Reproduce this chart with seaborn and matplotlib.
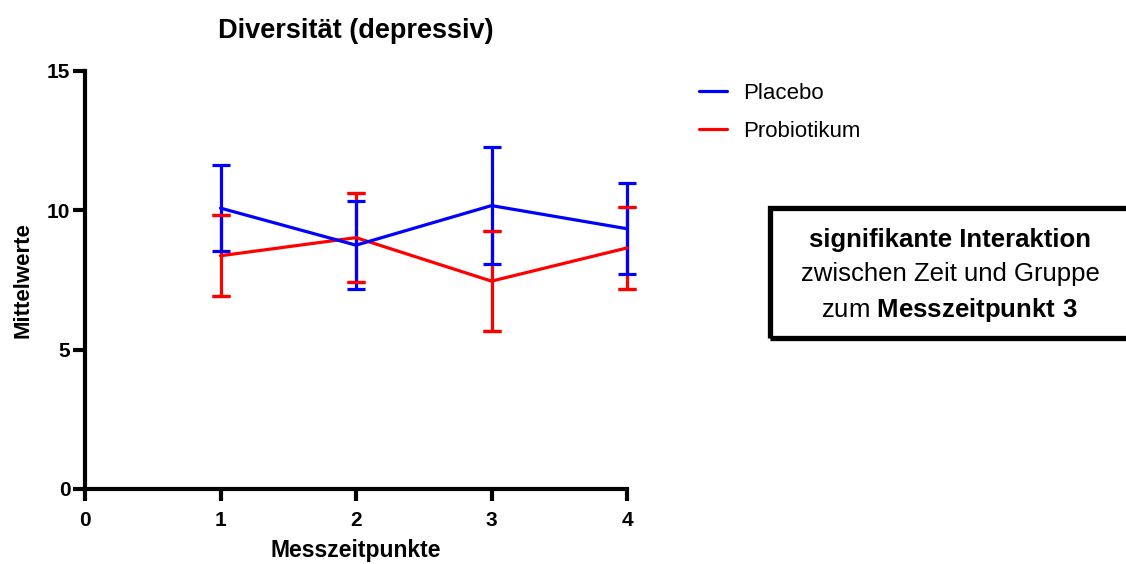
import matplotlib
matplotlib.use("Agg")
import matplotlib.pyplot as plt
import seaborn as sns
import pandas as pd
from matplotlib.patches import Rectangle

# Mittelwerte und Fehlerbalken je Messzeitpunkt
zeitpunkte = [1, 2, 3, 4]
placebo_mw = [10.08, 8.75, 10.17, 9.34]
placebo_fehler = [1.53, 1.58, 2.10, 1.63]
probiotikum_mw = [8.37, 9.02, 7.46, 8.65]
probiotikum_fehler = [1.45, 1.60, 1.80, 1.47]
gruppen = ["Placebo", "Probiotikum"]
farben = {"Placebo": "#0000FF", "Probiotikum": "#FF0000"}

df = pd.DataFrame({
    "Messzeitpunkte": zeitpunkte * 2,
    "Mittelwerte": placebo_mw + probiotikum_mw,
    "Fehler": placebo_fehler + probiotikum_fehler,
    "Gruppe": [gruppen[0]] * 4 + [gruppen[1]] * 4,
})

sns.set_style("white")
plt.rcParams["font.family"] = ["Liberation Sans", "DejaVu Sans"]
plt.rcParams["mathtext.fontset"] = "custom"
plt.rcParams["mathtext.rm"] = "Liberation Sans"
plt.rcParams["mathtext.bf"] = "Liberation Sans:bold"
plt.rcParams["text.color"] = "black"
plt.rcParams["axes.labelcolor"] = "black"
plt.rcParams["xtick.color"] = "black"
plt.rcParams["ytick.color"] = "black"

fig = plt.figure(figsize=(11.26, 5.64), dpi=100)
ax = fig.add_axes([85 / 1126, 1 - 489 / 564, (627 - 85) / 1126, (489 - 71) / 564])

LW = 2.3
CAP = 6.5


def fehlerbalken(g, elw, z):
    sub = df[df["Gruppe"] == g]
    eb = ax.errorbar(sub["Messzeitpunkte"], sub["Mittelwerte"], yerr=sub["Fehler"],
                     fmt="none", ecolor=farben[g], elinewidth=elw, capsize=CAP,
                     capthick=LW, zorder=z)
    for art in eb.lines[1] + eb.lines[2]:
        art.set_clip_on(False)


# Red drawn first, blue on top
fehlerbalken("Probiotikum", LW, 3)
fehlerbalken("Placebo", LW, 3)
sns.lineplot(data=df, x="Messzeitpunkte", y="Mittelwerte", hue="Gruppe",
             hue_order=["Probiotikum", "Placebo"], palette=farben,
             linewidth=LW, ax=ax, legend=False, zorder=4)
for ln in ax.lines:
    ln.set_clip_on(False)
# Probiotikum caps stay visible over the blue bars
fehlerbalken("Probiotikum", 0, 5)

ax.set_xlim(0, 4)
ax.set_ylim(0, 15)
ax.set_xticks([0, 1, 2, 3, 4])
ax.set_yticks([0, 5, 10, 15])
for s in ["top", "right"]:
    ax.spines[s].set_visible(False)
for s in ["left", "bottom"]:
    ax.spines[s].set_linewidth(3.0)
    ax.spines[s].set_color("black")
    ax.spines[s].set_capstyle("projecting")
ax.tick_params(axis="both", direction="out", length=8.5, width=3.0, color="black",
               labelsize=15, bottom=True, left=True)
ax.tick_params(axis="x", pad=7)
ax.tick_params(axis="y", pad=2)
for lab in ax.get_xticklabels() + ax.get_yticklabels():
    lab.set_fontweight("bold")
ax.set_xlabel("Messzeitpunkte", fontsize=16.5, fontweight="bold", labelpad=7)
ax.set_ylabel("Mittelwerte", fontsize=16, fontweight="bold", labelpad=10)
ax.set_title("Diversität (depressiv)", fontsize=19.5, fontweight="bold", pad=24)

# Legend
handles = [plt.Line2D([], [], color=farben[g], linewidth=LW) for g in gruppen]
fig.legend(handles, gruppen, loc="upper left", bbox_to_anchor=(690 / 1126, 1 - 74 / 564),
           frameon=False, fontsize=16, handlelength=1.25, handletextpad=0.75,
           labelspacing=0.75, borderaxespad=0, borderpad=0.4)

# Hinweisbox
box = Rectangle((770 / 1126, 1 - 338 / 564), 360 / 1126, 130 / 564,
                transform=fig.transFigure, fill=False, edgecolor="black",
                linewidth=3.8, clip_on=False)
fig.patches.append(box)
cx = 950 / 1126
fig.text(cx, 1 - 240 / 564, "signifikante Interaktion", ha="center", va="center",
         fontsize=18.5, fontweight="bold")
fig.text(cx, 1 - 274 / 564, "zwischen Zeit und Gruppe", ha="center", va="center",
         fontsize=18.5)
fig.text(cx, 1 - 310 / 564, r"zum $\mathbf{Messzeitpunkt\ 3}$", ha="center", va="center",
         fontsize=18.5)

fig.savefig("out.png", dpi=100)
